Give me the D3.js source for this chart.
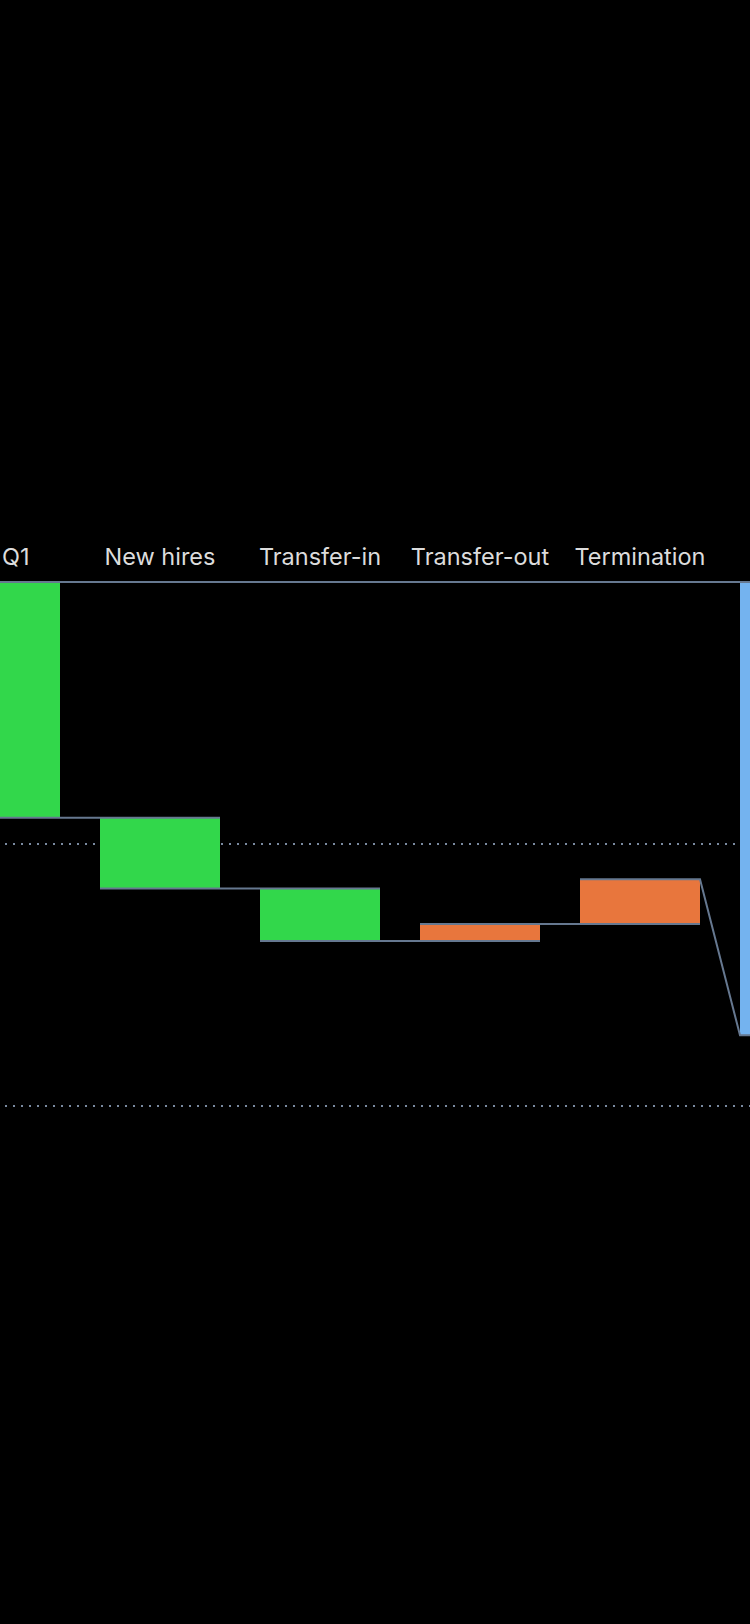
<!DOCTYPE html>
<html>
<head>
<meta charset="utf-8">
<script src="https://cdn.jsdelivr.net/npm/d3@7"></script>
<style>
  html, body { margin: 0; padding: 0; background: #000; }
  svg { display: block; }
</style>
</head>
<body>
<svg id="chart" width="750" height="1624"></svg>
<script>
// ---- data ----
const categories = ["Q1", "New hires", "Transfer-in", "Transfer-out", "Termination", "Q2"];
const values     = [90, 27, 20, -6.5, -17, 173];
const kinds      = ["delta", "delta", "delta", "delta", "delta", "total"];
const gridTicks  = [100, 200];

// ---- styles ----
const colUp = "#32d74b", colDown = "#e8763d", colTotal = "#74b3ef";
const colLine = "#667890", colText = "#dcdcdc";
const W = 750;

const svg = d3.select("#chart");
svg.append("rect").attr("width", W).attr("height", 1624).attr("fill", "#000");

const x = d3.scaleBand().domain(categories)
  .range([-80, -80 + 160 * categories.length])
  .paddingInner(0.25).paddingOuter(0.125);
const y = d3.scaleLinear().domain([0, 200]).range([582, 1106]);

// running totals
let run = 0;
const bars = categories.map((c, i) => {
  let s, e;
  if (kinds[i] === "total") { s = 0; e = values[i]; }
  else { s = run; e = run + values[i]; }
  run = e;
  return { cat: c, start: s, end: e, kind: kinds[i], v: values[i] };
});

// grid (dotted)
svg.append("g").selectAll("line").data(gridTicks).join("line")
  .attr("x1", 0).attr("x2", W)
  .attr("y1", d => y(d)).attr("y2", d => y(d))
  .attr("stroke", "#7a8aa0").attr("stroke-width", 2)
  .attr("stroke-dasharray", "2,6").attr("stroke-dashoffset", 3);

// bars
svg.append("g").selectAll("rect").data(bars).join("rect")
  .attr("x", d => x(d.cat))
  .attr("width", x.bandwidth())
  .attr("y", d => Math.min(y(d.start), y(d.end)))
  .attr("height", d => Math.abs(y(d.end) - y(d.start)))
  .attr("fill", d => d.kind === "total" ? colTotal : (d.v >= 0 ? colUp : colDown));

// axis line at zero
svg.append("line").attr("x1", 0).attr("x2", W)
  .attr("y1", y(0)).attr("y2", y(0))
  .attr("stroke", colLine).attr("stroke-width", 2);

// connectors
const line = d3.line().x(p => p[0]).y(p => p[1]);
const segs = [];
for (let i = 0; i < bars.length - 1; i++) {
  const a = bars[i], b = bars[i + 1];
  const ax0 = x(a.cat), ax1 = ax0 + x.bandwidth();
  const bx0 = x(b.cat), bx1 = bx0 + x.bandwidth();
  if (b.kind === "total") {
    segs.push([[ax0, y(a.end)], [ax1, y(a.end)], [bx0, y(b.end)], [bx1, y(b.end)]]);
  } else {
    segs.push([[ax0, y(a.end)], [bx1, y(a.end)]]);
  }
}
svg.append("g").selectAll("path").data(segs).join("path")
  .attr("d", line).attr("fill", "none")
  .attr("stroke", colLine).attr("stroke-width", 2);

// category labels (only those whose band is within the visible area)
const visibleCats = categories.filter(d => x(d) + x.bandwidth() / 2 < W);
const lab = svg.append("g").selectAll("text").data(visibleCats).join("text")
  .attr("x", d => x(d) + x.bandwidth() / 2)
  .attr("y", 565)
  .attr("text-anchor", "middle")
  .attr("fill", colText)
  .attr("font-family", "Inter, 'Noto Sans', sans-serif")
  .attr("font-size", 23.5)
  .text(d => d);
lab.each(function(d) {
  const w = this.getComputedTextLength();
  const cx = x(d) + x.bandwidth() / 2;
  if (cx - w / 2 < 2) d3.select(this).attr("x", 2).attr("text-anchor", "start");
});
</script>
</body>
</html>
